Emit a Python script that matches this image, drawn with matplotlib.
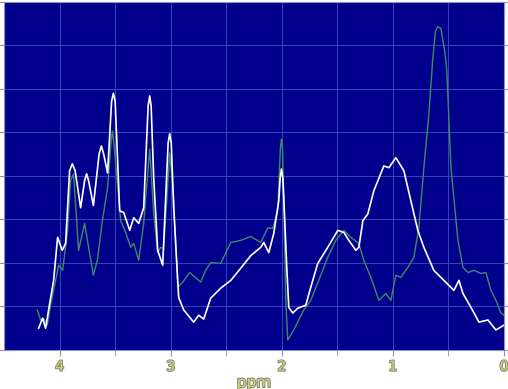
import numpy as np
import matplotlib
matplotlib.use("Agg")
import matplotlib.pyplot as plt
import matplotlib.patheffects as pe

# white spectrum (ppm, intensity)
ppm_w = [4.189, 4.153, 4.126, 4.099, 4.054, 4.018, 3.976, 3.946, 3.910, 3.886,
         3.860, 3.811, 3.775, 3.757, 3.739, 3.696, 3.644, 3.624, 3.604, 3.568,
         3.532, 3.516, 3.500, 3.459, 3.423, 3.369, 3.333, 3.288, 3.243, 3.203,
         3.189, 3.176, 3.153, 3.117, 3.072, 3.023, 3.009, 2.995, 2.973, 2.928,
         2.883, 2.793, 2.748, 2.703, 2.640, 2.550, 2.459, 2.369, 2.279, 2.189,
         2.162, 2.117, 2.072, 2.027, 2.014, 2.003, 1.991, 1.982, 1.955, 1.937,
         1.901, 1.856, 1.784, 1.739, 1.676, 1.586, 1.495, 1.441, 1.396, 1.333,
         1.306, 1.270, 1.225, 1.171, 1.081, 1.036, 0.973, 0.901, 0.838, 0.775,
         0.721, 0.631, 0.541, 0.450, 0.405, 0.369, 0.297, 0.225, 0.144, 0.072,
         0.000]
int_w = [0.50, 0.73, 0.50, 0.92, 1.60, 2.59, 2.29, 2.45, 4.12, 4.28,
         4.12, 3.27, 3.89, 4.05, 3.89, 3.32, 4.51, 4.69, 4.51, 4.07,
         5.72, 5.90, 5.72, 3.20, 3.16, 2.75, 3.04, 2.91, 3.27, 5.61,
         5.84, 5.61, 3.96, 2.29, 1.95, 4.76, 4.97, 4.76, 3.27, 1.21,
         0.92, 0.64, 0.80, 0.71, 1.19, 1.42, 1.60, 1.88, 2.17, 2.36,
         2.47, 2.24, 2.68, 3.43, 3.96, 4.16, 3.96, 3.50, 1.90, 0.98,
         0.85, 0.96, 1.03, 1.44, 1.99, 2.36, 2.75, 2.70, 2.52, 2.29,
         2.36, 2.97, 3.13, 3.66, 4.23, 4.19, 4.42, 4.12, 3.43, 2.75,
         2.36, 1.83, 1.60, 1.37, 1.60, 1.30, 0.98, 0.64, 0.69, 0.46,
         0.57]

# green spectrum (ppm, intensity)
ppm_g = [4.201, 4.171, 4.144, 4.111, 4.081, 4.036, 4.009, 3.973, 3.931, 3.901,
         3.874, 3.829, 3.775, 3.739, 3.696, 3.660, 3.615, 3.568, 3.536, 3.525,
         3.514, 3.495, 3.450, 3.405, 3.360, 3.333, 3.288, 3.243, 3.189, 3.153,
         3.117, 3.090, 3.063, 3.009, 2.973, 2.937, 2.892, 2.829, 2.730, 2.685,
         2.640, 2.550, 2.459, 2.369, 2.279, 2.189, 2.126, 2.081, 2.036, 2.013,
         2.003, 1.993, 1.982, 1.964, 1.946, 1.892, 1.847, 1.802, 1.739, 1.667,
         1.586, 1.514, 1.441, 1.378, 1.306, 1.261, 1.198, 1.126, 1.063, 1.018,
         0.973, 0.928, 0.865, 0.811, 0.766, 0.721, 0.676, 0.642, 0.617, 0.595,
         0.568, 0.532, 0.514, 0.477, 0.414, 0.369, 0.324, 0.270, 0.207, 0.162,
         0.117, 0.072, 0.027, 0.000]
int_g = [0.92, 0.69, 0.73, 0.57, 1.03, 1.60, 1.95, 1.83, 2.68, 3.89,
         4.05, 2.29, 2.91, 2.36, 1.72, 2.06, 2.97, 3.73, 4.81, 5.03,
         4.81, 4.28, 2.97, 2.70, 2.36, 2.45, 2.06, 2.91, 4.62, 3.13,
         2.24, 2.36, 2.33, 4.53, 3.50, 1.44, 1.56, 1.78, 1.56, 1.83,
         2.01, 1.99, 2.47, 2.52, 2.61, 2.47, 2.81, 2.79, 3.20, 4.62,
         4.85, 4.62, 3.43, 1.14, 0.23, 0.46, 0.69, 0.92, 1.14, 1.60,
         2.13, 2.52, 2.75, 2.59, 2.45, 2.06, 1.67, 1.14, 1.30, 1.14,
         1.72, 1.67, 1.90, 2.13, 2.81, 4.19, 5.42, 6.64, 7.32, 7.44,
         7.39, 6.86, 6.41, 4.19, 2.52, 1.90, 1.78, 1.83, 1.76, 1.78,
         1.37, 1.14, 0.85, 0.80]

fig = plt.figure(figsize=(5.08, 3.89), dpi=100)
ax = fig.add_axes([0.008, 0.1003, 0.984, 0.8947])
ax.set_facecolor("#00008c")

ax.plot(ppm_g, int_g, color="#3f8a68", lw=1.0)
ax.plot(ppm_w, int_w, color="white", lw=1.2)

ax.set_xlim(4.5, 0)
ax.set_ylim(0, 8)
ax.set_xticks([4, 3, 2, 1, 0])
ax.set_xticks(np.arange(0.5, 4.5, 1.0), minor=True)
ax.set_yticks(range(0, 9))
ax.grid(True, which="both", color="#3348b8", lw=0.7)

ax.tick_params(axis="x", which="both", direction="out", length=4,
               color="#9090c0", labelcolor="#d8d860", labelsize=10, pad=3)
ax.tick_params(axis="y", which="both", left=True, right=True, direction="out",
               length=4, color="#9090c0", labelleft=False)
for s in ax.spines.values():
    s.set_color("#9090c0")

stroke = [pe.withStroke(linewidth=1.5, foreground="#888888")]
for lab in ax.get_xticklabels():
    lab.set_path_effects(stroke)
ax.set_xlabel("ppm", color="#d8d860", fontsize=11, labelpad=1,
              path_effects=stroke)

fig.savefig("out.png", dpi=100)
